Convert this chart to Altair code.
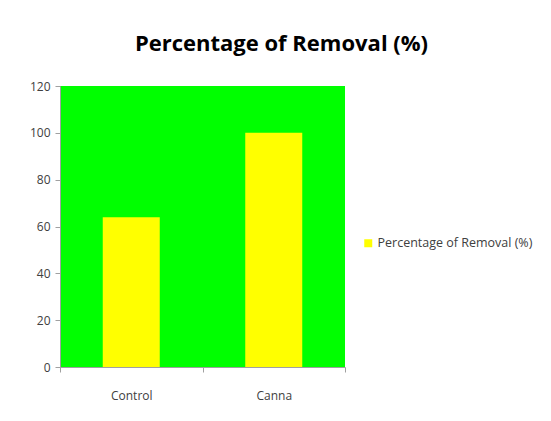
import altair as alt
import pandas as pd

categories = ["Control", "Canna"]
values = [64, 100]
series_name = "Percentage of Removal (%)"

df = pd.DataFrame({"category": categories, "value": values, "series": [series_name] * len(categories)})

FONT = "Liberation Sans Narrow, Open Sans, sans-serif"

chart = alt.Chart(df).mark_bar(width={"band": 0.4}).encode(
    x=alt.X("category:N", sort=categories, title=None,
            scale=alt.Scale(paddingInner=0, paddingOuter=0),
            axis=alt.Axis(labelAngle=0, tickBand="extent", tickSize=5, labelPadding=18,
                          domainColor="#a0a0a0", tickColor="#a0a0a0",
                          labelColor="#404040", labelFont=FONT, labelFontSize=12)),
    y=alt.Y("value:Q", title=None,
            scale=alt.Scale(domain=[0, 120], nice=False),
            axis=alt.Axis(values=[0, 20, 40, 60, 80, 100, 120], grid=False, tickSize=5, labelPadding=5,
                          domainColor="#a0a0a0", tickColor="#a0a0a0",
                          labelColor="#404040", labelFont=FONT, labelFontSize=12)),
    color=alt.Color("series:N", scale=alt.Scale(range=["#ffff00"]),
                    legend=alt.Legend(title=None, orient="none", legendX=302, legendY=151,
                                      symbolType="square", symbolSize=64, symbolStrokeWidth=0,
                                      labelLimit=0, labelOffset=3,
                                      labelFont=FONT, labelFontSize=12.5, labelColor="#404040")),
).properties(
    width=285, height=281,
    autosize=alt.AutoSizeParams(type="none"),
    padding={"left": 52, "top": 78, "right": 198, "bottom": 46},
    title=alt.TitleParams(series_name, font=FONT, fontSize=22, fontWeight="bold",
                          color="#000000", dx=79, offset=24, anchor="middle"),
).configure_view(fill="#00ff00", stroke=None)

chart.save("out.html", embed_options={"renderer": "svg", "actions": False})
